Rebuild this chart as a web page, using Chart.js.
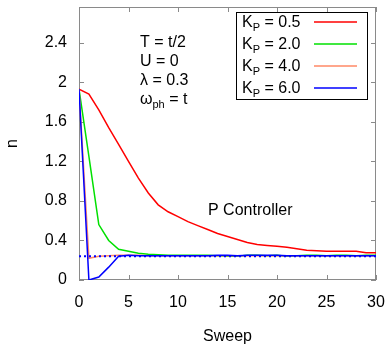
<!DOCTYPE html>
<html>
<head>
<meta charset="utf-8">
<script src="https://cdn.jsdelivr.net/npm/chart.js@4.4.1/dist/chart.umd.min.js"></script>
<style>
  body { margin: 0; background: #fff; }
  #wrap { width: 387px; height: 344px; }
</style>
</head>
<body>
<div id="wrap"><canvas id="chart"></canvas></div>
<script>
const sweeps = [0, 1, 2, 3, 4, 5, 6, 7, 8, 9, 10, 11, 12, 13, 14, 15, 16, 17, 18, 19, 20, 21, 22, 23, 24, 25, 26, 27, 28, 29, 30];
const kp05 = [1.93, 1.88, 1.72, 1.54, 1.37, 1.20, 1.03, 0.88, 0.76, 0.69, 0.64, 0.59, 0.55, 0.51, 0.47, 0.44, 0.41, 0.38, 0.36, 0.35, 0.34, 0.33, 0.315, 0.30, 0.295, 0.29, 0.29, 0.29, 0.29, 0.275, 0.275];
const kp20 = [1.93, 1.25, 0.56, 0.40, 0.31, 0.29, 0.27, 0.26, 0.255, 0.25, 0.25, 0.25, 0.25, 0.25, 0.245, 0.24, 0.24, 0.25, 0.25, 0.245, 0.25, 0.24, 0.245, 0.25, 0.25, 0.245, 0.25, 0.25, 0.245, 0.25, 0.25];
const kp40 = [1.93, 0.22, 0.24, 0.245, 0.25, 0.25, 0.25, 0.245, 0.245, 0.245, 0.245, 0.245, 0.245, 0.245, 0.245, 0.245, 0.245, 0.245, 0.245, 0.245, 0.245, 0.245, 0.245, 0.245, 0.245, 0.245, 0.245, 0.245, 0.245, 0.245, 0.245];
const kp60 = [1.93, 0.0, 0.03, 0.13, 0.24, 0.25, 0.245, 0.245, 0.245, 0.245, 0.245, 0.245, 0.245, 0.245, 0.25, 0.25, 0.245, 0.25, 0.25, 0.25, 0.25, 0.245, 0.245, 0.245, 0.245, 0.245, 0.245, 0.245, 0.245, 0.245, 0.245];
const target = [0.24, 0.24, 0.24, 0.24, 0.24, 0.24, 0.24, 0.24, 0.24, 0.24, 0.24, 0.24, 0.24, 0.24, 0.24, 0.24, 0.24, 0.24, 0.24, 0.24, 0.24, 0.24, 0.24, 0.24, 0.24, 0.24, 0.24, 0.24, 0.24, 0.24, 0.24];
const kpLabels = ['0.5', '2.0', '4.0', '6.0'];
const kpColors = ['#ff0000', '#00e000', '#ff8866', '#0000ff'];
const xTicks = [0, 5, 10, 15, 20, 25, 30];
const yTicks = [0, 0.4, 0.8, 1.2, 1.6, 2, 2.4];
const params = ['T = t/2', 'U = 0', 'λ = 0.3'];

const FONT = '"Liberation Sans", Arial, sans-serif';

function pts(vals) {
    return vals.map((v, i) => ({ x: sweeps[i], y: v }));
}

function subText(ctx, x, y, main, sub, rest) {
    ctx.font = '16px ' + FONT;
    ctx.fillText(main, x, y);
    x += ctx.measureText(main).width;
    ctx.font = '11px ' + FONT;
    ctx.fillText(sub, x, y + 4);
    x += ctx.measureText(sub).width;
    ctx.font = '16px ' + FONT;
    ctx.fillText(rest, x, y);
}

const frame = {
    id: 'frame',
    beforeDatasetsDraw(chart) {
        const { ctx, chartArea: a, scales: { x, y } } = chart;
        ctx.save();
        ctx.strokeStyle = '#8a8a8a';
        ctx.lineWidth = 1;
        ctx.strokeRect(a.left + 0.5, a.top + 0.5, a.width - 1, a.height - 1);
        ctx.beginPath();
        x.ticks.forEach(t => {
            const px = Math.round(x.getPixelForValue(t.value)) + 0.5;
            ctx.moveTo(px, a.bottom); ctx.lineTo(px, a.bottom - 5);
            ctx.moveTo(px, a.top); ctx.lineTo(px, a.top + 5);
        });
        y.ticks.forEach(t => {
            const py = Math.round(y.getPixelForValue(t.value)) + 0.5;
            ctx.moveTo(a.left, py); ctx.lineTo(a.left + 5, py);
            ctx.moveTo(a.right, py); ctx.lineTo(a.right - 5, py);
        });
        ctx.stroke();
        ctx.restore();
    },
    afterDraw(chart) {
        const { ctx } = chart;
        ctx.save();
        ctx.fillStyle = '#000';
        ctx.textBaseline = 'alphabetic';
        ctx.font = '16px ' + FONT;
        params.forEach((p, i) => ctx.fillText(p, 140, 47 + i * 19));
        subText(ctx, 140, 104, 'ω', 'ph', ' = t');
        ctx.font = '16px ' + FONT;
        ctx.fillText('P Controller', 208, 215);

        // legend box
        ctx.strokeStyle = '#000';
        ctx.lineWidth = 1;
        ctx.strokeRect(236.5, 12.5, 131, 87);
        kpLabels.forEach((k, i) => {
            const yy = 27 + i * 22;
            ctx.fillStyle = '#000';
            subText(ctx, 242, yy, 'K', 'P', ' = ' + k);
            ctx.strokeStyle = kpColors[i];
            ctx.lineWidth = 1.5;
            ctx.beginPath();
            ctx.moveTo(314, yy - 5);
            ctx.lineTo(357, yy - 5);
            ctx.stroke();
        });
        ctx.restore();
    }
};

const series = [kp05, kp20, kp40, kp60];
const datasets = series.map((s, i) => ({
    label: 'KP = ' + kpLabels[i],
    data: pts(s),
    borderColor: kpColors[i],
    borderWidth: 1.5,
    pointRadius: 0,
    fill: false,
    order: 4 - i
}));
datasets.push({
    label: 'target',
    data: pts(target),
    borderColor: '#0000ff',
    borderWidth: 2,
    borderDash: [2, 3],
    pointRadius: 0,
    fill: false,
    order: 0
});

new Chart('chart', {
    type: 'line',
    data: { datasets: datasets },
    options: {
        responsive: true,
        maintainAspectRatio: false,
        animation: false,
        layout: { padding: { top: 7, right: 11, left: 0, bottom: 0 } },
        plugins: { legend: { display: false }, tooltip: { enabled: false } },
        scales: {
            x: {
                type: 'linear',
                min: 0,
                max: 30,
                afterBuildTicks: s => { s.ticks = xTicks.map(v => ({ value: v })); },
                afterFit: s => { s.height = 64; s.paddingLeft = 0; s.paddingRight = 0; },
                grid: { display: false, drawTicks: false },
                border: { display: false },
                ticks: { color: '#000', padding: 13, maxRotation: 0, font: { family: FONT, size: 16 } },
                title: { display: true, text: 'Sweep', color: '#000', padding: { top: 0, bottom: -2 }, font: { family: FONT, size: 16 } }
            },
            y: {
                min: 0,
                max: 2.76,
                afterBuildTicks: s => { s.ticks = yTicks.map(v => ({ value: v })); },
                afterFit: s => { s.width = 79; s.paddingTop = 0; s.paddingBottom = 0; },
                grid: { display: false, drawTicks: false },
                border: { display: false },
                ticks: { color: '#000', padding: 12, font: { family: FONT, size: 16 }, callback: v => String(+v.toFixed(1)) },
                title: { display: true, text: 'n', color: '#000', padding: { top: 3, bottom: 0 }, font: { family: FONT, size: 16 } }
            }
        }
    },
    plugins: [frame]
});
</script>
</body>
</html>
